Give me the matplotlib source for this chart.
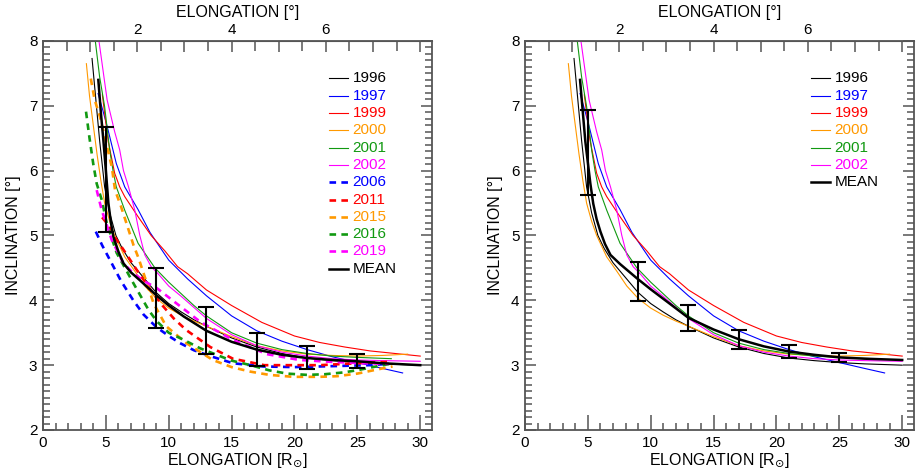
import numpy as np
import matplotlib
matplotlib.use('Agg')
import matplotlib.pyplot as plt
from matplotlib.ticker import MultipleLocator, FixedLocator, NullFormatter

plt.rcParams['font.family'] = ['Liberation Sans', 'DejaVu Sans']

# ---- solid curves (same in both panels) ----
x_1996 = [3.9, 4.2, 4.5, 4.9, 5.3, 5.8, 6.3, 7.0, 8.0, 9.0, 10, 11, 12, 13, 15, 17, 19, 21, 23, 25, 27, 30]
y_1996 = [7.73, 7.1, 6.47, 5.75, 5.35, 5.0, 4.8, 4.58, 4.35, 4.12, 3.95, 3.82, 3.7, 3.6, 3.42, 3.28, 3.18, 3.11, 3.07, 3.04, 3.02, 3.0]

x_1997 = [4.38, 4.8, 5.17, 5.83, 6.5, 7.56, 8.5, 9.3, 10, 11.5, 13, 15, 17, 19, 21, 23, 25, 27, 28.6]
y_1997 = [7.19, 6.9, 6.63, 6.11, 5.75, 5.4, 5.05, 4.82, 4.62, 4.33, 4.07, 3.76, 3.53, 3.37, 3.24, 3.13, 3.04, 2.95, 2.88]

x_1999 = [4.72, 5.17, 5.7, 6.1, 6.5, 7.56, 8.6, 9.7, 10.7, 11.5, 13, 15, 17.4, 20, 22, 24, 26, 28, 30]
y_1999 = [7.17, 6.47, 5.96, 5.75, 5.6, 5.29, 5.0, 4.76, 4.52, 4.41, 4.16, 3.92, 3.66, 3.45, 3.35, 3.28, 3.22, 3.18, 3.14]

x_2000 = [3.45, 3.7, 3.98, 4.3, 4.6, 4.9, 5.3, 5.7, 6.5, 7.3, 8.1, 9.0, 10, 11, 12, 13, 15, 17, 19, 21, 23, 25, 27, 29]
y_2000 = [7.65, 7.15, 6.73, 6.25, 5.85, 5.5, 5.22, 5.0, 4.67, 4.45, 4.22, 4.03, 3.88, 3.77, 3.68, 3.6, 3.44, 3.3, 3.22, 3.17, 3.15, 3.14, 3.15, 3.17]

x_2001 = [4.16, 4.5, 4.9, 5.3, 5.57, 5.83, 6.5, 7.56, 8.9, 10, 11, 12, 13, 15, 17, 19, 21, 23, 25, 27.7]
y_2001 = [8.0, 7.45, 6.99, 6.32, 6.0, 5.75, 5.39, 4.88, 4.5, 4.28, 4.1, 3.92, 3.76, 3.5, 3.34, 3.24, 3.18, 3.14, 3.12, 3.1]

x_2002 = [4.45, 5.1, 5.7, 6.1, 6.4, 6.8, 7.3, 7.7, 8.1, 8.6, 9.2, 10, 11, 13, 15, 17, 19, 21, 23, 25, 27, 30]
y_2002 = [8.0, 7.09, 6.6, 6.32, 6.0, 5.75, 5.39, 5.0, 4.7, 4.52, 4.4, 4.22, 4.06, 3.72, 3.47, 3.3, 3.2, 3.14, 3.1, 3.08, 3.07, 3.06]

# ---- dashed curves (left panel only) ----
x_2006 = [4.2, 4.7, 5.33, 6.2, 7.18, 8.0, 9.0, 10, 10.9, 12, 13.3, 15.1, 17.5, 20, 22, 24, 26, 27.5]
y_2006 = [5.06, 4.85, 4.62, 4.3, 4.0, 3.78, 3.59, 3.45, 3.34, 3.23, 3.14, 3.03, 2.98, 2.97, 2.98, 2.99, 3.0, 3.02]

x_2011 = [4.7, 5.2, 5.8, 6.4, 7.45, 8.6, 9.5, 10.4, 11.4, 12.5, 13.3, 15.1, 17.6, 20, 22, 24, 26, 27.5]
y_2011 = [5.28, 5.16, 4.95, 4.78, 4.47, 4.15, 3.92, 3.72, 3.54, 3.39, 3.28, 3.1, 3.0, 3.0, 3.0, 3.02, 3.04, 3.05]

x_2015 = [3.8, 4.1, 4.53, 5.0, 5.47, 5.73, 6.2, 6.7, 7.2, 7.6, 8.2, 8.8, 9.8, 11.4, 13.5, 15, 16.5, 18, 19.9, 22, 23.4, 25, 25.75, 27, 27.8]
y_2015 = [7.42, 7.1, 6.83, 6.45, 6.06, 5.7, 5.45, 5.15, 4.85, 4.65, 4.3, 3.95, 3.6, 3.34, 3.08, 2.97, 2.9, 2.85, 2.82, 2.82, 2.83, 2.87, 2.9, 2.95, 2.98]

x_2016 = [3.42, 3.7, 4.0, 4.27, 4.67, 5.07, 5.86, 7.2, 8.4, 9.04, 10, 11.2, 12.5, 13.8, 15, 16.5, 18, 19.4, 21, 22.4, 24, 25.2, 26.5, 27.6]
y_2016 = [6.91, 6.5, 6.1, 5.8, 5.55, 5.19, 4.73, 4.26, 3.85, 3.68, 3.5, 3.39, 3.26, 3.16, 3.07, 3.0, 2.92, 2.87, 2.85, 2.86, 2.89, 2.93, 2.98, 3.02]

x_2019 = [4.27, 4.67, 5.47, 6.4, 7.18, 8.0, 9.04, 10.5, 12.5, 15.1, 17.8, 20.4, 23, 25.5, 27.5]
y_2019 = [5.7, 5.39, 4.93, 4.57, 4.42, 4.3, 4.19, 3.97, 3.67, 3.39, 3.17, 3.08, 3.05, 3.03, 3.02]

# ---- mean curves and error bars ----
x_mean_all = [4.4, 4.6, 4.8, 5.0, 5.2, 5.4, 5.6, 6.0, 6.4, 7.0, 7.7, 9.0, 10, 11.2, 13, 15, 17, 19, 21, 23, 25, 27, 30]
y_mean_all = [7.4, 6.9, 6.47, 6.0, 5.5, 5.2, 4.98, 4.75, 4.57, 4.43, 4.31, 4.08, 3.92, 3.75, 3.53, 3.36, 3.24, 3.16, 3.11, 3.08, 3.06, 3.03, 3.0]

x_mean_old = [4.38, 4.6, 4.8, 5.04, 5.2, 5.43, 5.7, 6.0, 6.36, 6.8, 7.56, 8.9, 10, 11.5, 13, 15, 17, 19, 21, 23, 25, 27, 30]
y_mean_old = [7.4, 6.9, 6.45, 6.06, 5.8, 5.49, 5.25, 5.06, 4.87, 4.7, 4.56, 4.34, 4.17, 3.95, 3.73, 3.55, 3.4, 3.29, 3.21, 3.16, 3.12, 3.1, 3.08]

err_x = [5, 9, 13, 17, 21, 25]
err_y_all = [5.87, 4.04, 3.53, 3.24, 3.115, 3.06]
err_d_all = [0.81, 0.46, 0.36, 0.25, 0.175, 0.11]
err_y_old = [6.28, 4.29, 3.73, 3.40, 3.21, 3.12]
err_d_old = [0.65, 0.30, 0.20, 0.145, 0.095, 0.07]

solid = [
    ('1996', x_1996, y_1996, 'black'),
    ('1997', x_1997, y_1997, '#0000ff'),
    ('1999', x_1999, y_1999, '#ff0000'),
    ('2000', x_2000, y_2000, '#ff9900'),
    ('2001', x_2001, y_2001, '#119911'),
    ('2002', x_2002, y_2002, '#ff00ff'),
]
dashed = [
    ('2006', x_2006, y_2006, '#0000ff'),
    ('2011', x_2011, y_2011, '#ff0000'),
    ('2015', x_2015, y_2015, '#ff9900'),
    ('2016', x_2016, y_2016, '#119911'),
    ('2019', x_2019, y_2019, '#ff00ff'),
]

AX_COL = '#555555'
DASH = (0, (2.5, 2.0))
RSUN_PER_DEG = 3.75

fig = plt.figure(figsize=(9.17, 4.68), dpi=100)
ax1 = fig.add_axes([0.0469, 0.0812, 0.4237, 0.8312])
ax2 = fig.add_axes([0.5725, 0.0812, 0.4237, 0.8312])


def style_axes(ax):
    ax.set_xlim(0, 30.9)
    ax.set_ylim(2, 8)
    for sp in ax.spines.values():
        sp.set_color(AX_COL)
        sp.set_linewidth(1.3)
    ax.xaxis.set_major_locator(MultipleLocator(5))
    ax.xaxis.set_minor_locator(MultipleLocator(1))
    ax.yaxis.set_major_locator(MultipleLocator(1))
    ax.yaxis.set_minor_locator(MultipleLocator(0.1))
    ax.tick_params(which='both', direction='in', top=False, right=True,
                   color=AX_COL, width=1.1, labelsize=11, pad=4)
    ax.tick_params(axis='x', which='major', length=10.5)
    ax.tick_params(axis='x', which='minor', length=5)
    ax.tick_params(axis='y', which='major', length=8)
    ax.tick_params(axis='y', which='minor', length=5)
    ax.set_xlabel(r'ELONGATION [R$_{\odot}$]', fontsize=11.5, labelpad=1)
    ax.set_ylabel('INCLINATION [°]', fontsize=11.5, labelpad=6)

    top = ax.secondary_xaxis('top', functions=(lambda r: r / RSUN_PER_DEG,
                                               lambda d: d * RSUN_PER_DEG))
    top.xaxis.set_major_locator(FixedLocator([0, 1, 2, 3, 4, 5, 6, 7, 8]))
    top.xaxis.set_minor_locator(FixedLocator([0.5, 1.5, 2.5, 3.5, 4.5, 5.5, 6.5, 7.5]))
    top.set_xticks([0, 1, 2, 3, 4, 5, 6, 7, 8], ['', '', '2', '', '4', '', '6', '', ''])
    top.tick_params(which='both', direction='in', color=AX_COL, width=1.1,
                    labelsize=11, pad=3)
    top.tick_params(which='major', length=8)
    top.tick_params(which='minor', length=7)
    top.spines['top'].set_color(AX_COL)
    top.set_xlabel('ELONGATION [°]', fontsize=11.5, labelpad=4)


def legend(ax, entries, x0, y0, dy):
    for i, (label, color, ls, lw) in enumerate(entries):
        y = y0 - i * dy
        ax.plot([x0, x0 + 0.05], [y, y], color=color, ls=ls, lw=lw,
                transform=ax.transAxes, clip_on=False)
        ax.text(x0 + 0.062, y, label, color=color, fontsize=11,
                va='center', ha='left', transform=ax.transAxes)


# ---- left panel: all years ----
for label, xs, ys, c in solid:
    ax1.plot(xs, ys, color=c, lw=0.8)
for label, xs, ys, c in dashed:
    ax1.plot(xs, ys, color=c, lw=1.9, ls=DASH)
ax1.plot(x_mean_all, y_mean_all, color='black', lw=1.8)
ax1.errorbar(err_x, err_y_all, yerr=err_d_all, fmt='none', ecolor='black',
             elinewidth=1.5, capsize=6, capthick=1.5)
style_axes(ax1)

leg1 = [(l, c, '-', 0.8) for l, _, _, c in solid] + \
       [(l, c, DASH, 1.9) for l, _, _, c in dashed] + [('MEAN', 'black', '-', 1.8)]
legend(ax1, leg1, 0.735, 0.904, 0.0445)

# ---- right panel: 1996-2002 ----
for label, xs, ys, c in solid:
    ax2.plot(xs, ys, color=c, lw=0.8)
ax2.plot(x_mean_old, y_mean_old, color='black', lw=1.8)
ax2.errorbar(err_x, err_y_old, yerr=err_d_old, fmt='none', ecolor='black',
             elinewidth=1.5, capsize=6, capthick=1.5)
style_axes(ax2)

leg2 = [(l, c, '-', 0.8) for l, _, _, c in solid] + [('MEAN', 'black', '-', 1.8)]
legend(ax2, leg2, 0.735, 0.904, 0.0445)

fig.savefig('out.png', dpi=100)
